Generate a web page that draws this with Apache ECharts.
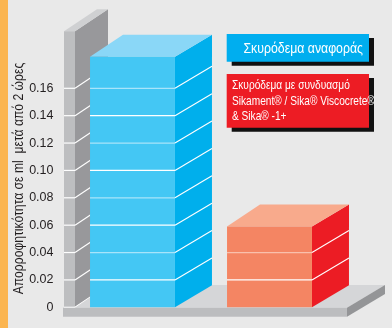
<!DOCTYPE html>
<html><head><meta charset="utf-8">
<script src="https://cdn.jsdelivr.net/npm/echarts@6/dist/echarts.min.js"></script>
<style>html,body{margin:0;padding:0;background:#e9e9e9}#c{width:392px;height:328px}</style>
</head><body><div id="c"></div>
<script>
const categories = ['Σκυρόδεμα αναφοράς', 'Σκυρόδεμα με συνδυασμό Sikament® / Sika® Viscocrete® & Sika® -1+'];
const values = [0.183, 0.059];
const yTicks = [0, 0.02, 0.04, 0.06, 0.08, 0.10, 0.12, 0.14, 0.16];
const legendBlue = ['Σκυρόδεμα αναφοράς'];
const legendRed = ['Σκυρόδεμα με συνδυασμό', 'Sikament® / Sika® Viscocrete®', '& Sika® -1+'];
const yTitle = 'Απορροφητικότητα σε ml  μετά από 2 ώρες';

const palettes = [
  {front:'#44C7F4', side:'#00AFEC', top:'#8AD7F7', line:'#ffffff', line2:'#A8E4FA'},
  {front:'#F48563', side:'#EC1C24', top:'#F8AA8C', line:'#ffffff', line2:'#F9C0AC'}
];
const FONT = '"Liberation Sans", Arial, sans-serif';
const DX = 37, DX2 = 33, DY = -22;

function renderBar(params, api) {
  const i = api.value(0), v = api.value(1);
  const base = api.coord([i, 0]), top = api.coord([i, v]);
  const bw = api.size([1, 0])[0] * 0.62;
  const x0 = base[0] - bw / 2, x1 = base[0] + bw / 2, yb = base[1], yt = top[1];
  const c = palettes[params.dataIndex];
  const ch = [
    {type:'polygon', shape:{points:[[x1,yt],[x1+DX,yt+DY],[x1+DX,yb+DY],[x1,yb]]}, style:{fill:c.side}},
    {type:'polygon', shape:{points:[[x0,yt],[x1,yt],[x1+DX,yt+DY],[x0+DX2,yt+DY]]}, style:{fill:c.top}},
    {type:'rect', shape:{x:x0, y:yt, width:bw, height:yb-yt}, style:{fill:c.front}}
  ];
  yTicks.forEach((t, k) => {
    if (t > 0 && t < v - 0.004) {
      const y = api.coord([i, t])[1];
      const col = (k % 2 === 0) ? c.line2 : c.line;
      ch.push({type:'line', shape:{x1:x0, y1:y, x2:x1, y2:y}, style:{stroke:col, lineWidth:1.3}});
      ch.push({type:'line', shape:{x1:x1, y1:y, x2:x1+DX, y2:y+DY}, style:{stroke:'#ffffff', lineWidth:1.1}});
    }
  });
  return {type:'group', children: ch};
}

function renderStage(params, api) {
  const cs = params.coordSys;
  const zeroY = api.coord([0, 0])[1];
  const gl = cs.x, gr = cs.x + cs.width;
  const wx0 = gl, wx1 = gl + 11, wTop = zeroY - 276;
  const ch = [];
  ch.push({type:'polygon', shape:{points:[[wx1,wTop],[wx1+DX2,wTop+DY],[wx1+DX2,zeroY+DY],[wx1,zeroY]]}, style:{fill:'#98989B'}});
  ch.push({type:'polygon', shape:{points:[[wx0,wTop],[wx1,wTop],[wx1+DX2,wTop+DY],[wx0+DX2,wTop+DY]]}, style:{fill:'#CFD0D2'}});
  ch.push({type:'rect', shape:{x:wx0, y:wTop, width:wx1-wx0, height:zeroY-wTop}, style:{fill:'#BDBEC0'}});
  yTicks.forEach(t => {
    const y = api.coord([0, t])[1];
    ch.push({type:'line', shape:{x1:wx0, y1:y, x2:wx1, y2:y}, style:{stroke:'#ffffff', lineWidth:1.2}});
    ch.push({type:'line', shape:{x1:wx1, y1:y, x2:wx1+DX2, y2:y+DY}, style:{stroke:'#ffffff', lineWidth:1.1}});
  });
  const fx0 = gl - 1, fx1 = gr + 9, fy = zeroY + 0.5, th = 9, fdx = 38, fdy = -22.7;
  ch.push({type:'polygon', shape:{points:[[wx1,fy],[fx1,fy],[fx1+fdx,fy+fdy],[wx1+DX2,fy+fdy]]}, style:{fill:'#D5D6D8'}});
  ch.push({type:'polygon', shape:{points:[[fx1,fy],[fx1+fdx,fy+fdy],[fx1+fdx,fy+fdy+th],[fx1,fy+th]]}, style:{fill:'#949597'}});
  ch.push({type:'rect', shape:{x:fx0, y:fy, width:fx1-fx0, height:th}, style:{fill:'#BCBDBF'}});
  return {type:'group', children: ch};
}

const chart = echarts.init(document.getElementById('c'), null, {renderer:'canvas'});
chart.setOption({
  backgroundColor: '#E9E9E9',
  animation: false,
  grid: {left: 64, width: 274, top: 88.3, height: 219},
  xAxis: {type:'category', data: categories, show: false},
  yAxis: {
    type:'value', min: 0, max: 0.16, interval: 0.02,
    axisLine:{show:false}, axisTick:{show:false}, splitLine:{show:false},
    axisLabel:{margin: 10.5, color:'#231F20', fontFamily: FONT, fontSize: 12.5,
      formatter: v => v === 0 ? '0' : v.toFixed(2)}
  },
  series: [
    {type:'custom', renderItem: renderStage, data: [[0, 0]], clip:false, silent:true, z:1},
    {type:'custom', renderItem: renderBar, data: categories.map((c, i) => [i, values[i]]), clip:false, z:2}
  ],
  graphic: [
    {type:'rect', left:0, top:0, shape:{width:8, height:328}, style:{fill:'#FBB550'}, z:100},
    {type:'text', x:19, y:178.5, rotation: Math.PI/2, scaleX:0.81, style:{text: yTitle, fill:'#231F20', font:'15px ' + FONT, align:'center', verticalAlign:'middle'}, z:100},
    {type:'rect', shape:{x:231.7, y:38, width:142.3, height:27.7}, style:{fill:'#111111'}, z:100},
    {type:'rect', shape:{x:226.7, y:34, width:142.3, height:27.7}, style:{fill:'#00AEEF'}, z:101},
    {type:'text', x:363, y:48.5, scaleX:0.82, style:{text: legendBlue.join('\n'), fill:'#ffffff', font:'15px ' + FONT, align:'right', verticalAlign:'middle'}, z:102},
    {type:'rect', shape:{x:231.7, y:78, width:142.3, height:53.7}, style:{fill:'#111111'}, z:100},
    {type:'rect', shape:{x:226.7, y:74, width:142.3, height:53.7}, style:{fill:'#ED1C24'}, z:101},
    {type:'text', x:232, y:101, scaleX:0.78, style:{text: legendRed.join('\n'), fill:'#ffffff', font:'13px ' + FONT, lineHeight:15.8, align:'left', verticalAlign:'middle'}, z:102}
  ]
});
</script></body></html>
